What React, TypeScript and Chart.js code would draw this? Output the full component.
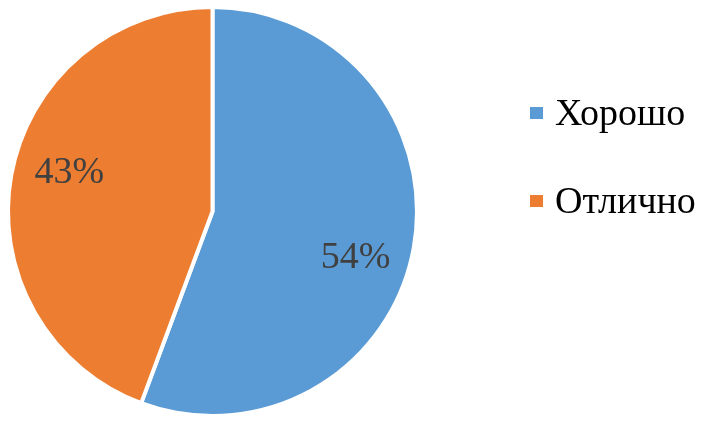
import React, { useEffect, useRef } from "react";
import { Chart, registerables } from "chart.js";

Chart.register(...registerables);

const categories = ["Хорошо", "Отлично"];
const values = [54, 43];
const colors = ["#5B9BD5", "#ED7D31"];

export default function App() {
  const ref = useRef<HTMLCanvasElement | null>(null);

  useEffect(() => {
    document.body.style.margin = "0";
    const canvas = ref.current!;
    const labelPlugin = {
      id: "labelsAndLegend",
      afterDraw(chart: any) {
        const ctx = chart.ctx;
        const meta = chart.getDatasetMeta(0);
        ctx.save();
        ctx.font = "38px 'Liberation Serif', serif";
        ctx.fillStyle = "#404040";
        ctx.textAlign = "center";
        ctx.textBaseline = "middle";
        meta.data.forEach((arc: any, i: number) => {
          const mid = (arc.startAngle + arc.endAngle) / 2 + 0.11;
          const r = arc.outerRadius * 0.73;
          const x = arc.x + Math.cos(mid) * r;
          const y = arc.y + Math.sin(mid) * r;
          ctx.fillText(values[i] + "%", x, y + 4);
        });
        // legend
        const ys = [113, 201];
        ctx.textAlign = "left";
        categories.forEach((c, i) => {
          ctx.fillStyle = colors[i];
          ctx.fillRect(530, ys[i] - 6, 13, 12);
          ctx.fillStyle = "#000000";
          ctx.fillText(c, 555, ys[i] + 2);
        });
        ctx.restore();
      },
    };
    const chart = new Chart(canvas, {
      type: "pie",
      data: {
        labels: categories,
        datasets: [
          {
            data: values,
            backgroundColor: colors,
            borderColor: "#ffffff",
            borderWidth: 4,
          },
        ],
      },
      options: {
        responsive: false,
        animation: false,
        layout: { padding: { left: 6, top: 5, right: 290, bottom: 3 } },
        plugins: {
          legend: { display: false },
          tooltip: { enabled: false },
        },
      },
      plugins: [labelPlugin],
    });
    return () => chart.destroy();
  }, []);

  return (
    <div style={{ position: "fixed", left: 0, top: 0, width: 709, height: 421, background: "#fff" }}>
      <canvas ref={ref} width={709} height={421} />
    </div>
  );
}
